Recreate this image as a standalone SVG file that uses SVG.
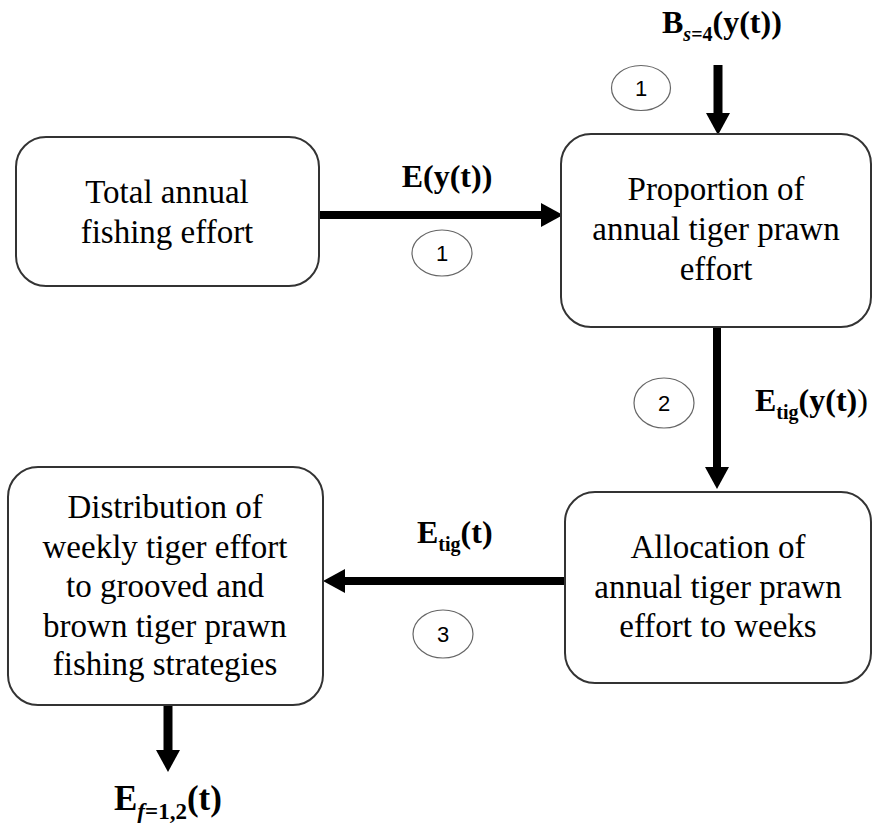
<svg xmlns="http://www.w3.org/2000/svg" width="873" height="823" viewBox="0 0 873 823">
<style>
.box{fill:#fff;stroke:#333;stroke-width:2}
.bt{font-size:33px;fill:#000;text-anchor:middle}
.lab{font-size:32px;font-weight:bold;fill:#000}
.sub{font-size:20px}
.num{fill:#fff;stroke:#666;stroke-width:1.2}
.nt{font-size:22px;fill:#000;text-anchor:middle}
.conn{stroke:#000;stroke-width:8;fill:none}
</style>
<defs>
<marker id="ah" markerUnits="userSpaceOnUse" markerWidth="22" markerHeight="24" viewBox="0 0 22 24" refX="0" refY="12" orient="auto">
<path d="M0,0 L22,12 L0,24 z" fill="#000"/>
</marker>
</defs>
<g id="connectors">
<line class="conn" x1="319" y1="215" x2="541" y2="215" marker-end="url(#ah)"/>
<line class="conn" x1="718" y1="65" x2="718" y2="113" marker-end="url(#ah)" style="stroke-width:9"/>
<line class="conn" x1="717" y1="327" x2="717" y2="467" marker-end="url(#ah)"/>
<line class="conn" x1="565" y1="581" x2="345" y2="581" marker-end="url(#ah)"/>
<line class="conn" x1="168" y1="705" x2="168" y2="750" marker-end="url(#ah)" style="stroke-width:9"/>
</g>
<g font-family="Liberation Serif, Times New Roman, serif">
<g id="node-total">
<rect class="box" x="16" y="137" width="303" height="149" rx="30"/>
<text class="bt" x="167" y="203">Total annual</text>
<text class="bt" x="167" y="243">fishing effort</text>
</g>
<g id="node-proportion">
<rect class="box" x="561" y="134" width="310" height="193" rx="30"/>
<text class="bt" x="716" y="200">Proportion of</text>
<text class="bt" x="716" y="240">annual tiger prawn</text>
<text class="bt" x="716" y="280">effort</text>
</g>
<g id="node-allocation">
<rect class="box" x="565" y="492" width="306" height="191" rx="30"/>
<text class="bt" x="718" y="558">Allocation of</text>
<text class="bt" x="718" y="598">annual tiger prawn</text>
<text class="bt" x="718" y="637">effort to weeks</text>
</g>
<g id="node-distribution">
<rect class="box" x="8" y="467" width="315" height="238" rx="30"/>
<text class="bt" x="165" y="518">Distribution of</text>
<text class="bt" x="165" y="558">weekly tiger effort</text>
<text class="bt" x="165" y="597">to grooved and</text>
<text class="bt" x="165" y="637">brown tiger prawn</text>
<text class="bt" x="165" y="675">fishing strategies</text>
</g>
<g id="labels">
<text class="lab" x="662" y="33">B<tspan class="sub" dy="8"><tspan font-style="italic">s</tspan>=4</tspan><tspan dy="-8">(y(t))</tspan></text>
<text class="lab" x="447" y="187" text-anchor="middle">E(y(t))</text>
<text class="lab" x="755" y="411">E<tspan class="sub" dy="8">tig</tspan><tspan dy="-8">(y(t)</tspan><tspan font-weight="normal">)</tspan></text>
<text class="lab" x="417" y="543">E<tspan class="sub" dy="8">tig</tspan><tspan dy="-8">(t)</tspan></text>
<text class="lab" x="114" y="810" style="font-size:35px">E<tspan class="sub" dy="9" style="font-size:23px"><tspan font-style="italic">f</tspan>=1,2</tspan><tspan dy="-9">(t)</tspan></text>
</g>
</g>
<g font-family="Liberation Sans, Arial, sans-serif">
<g id="step-1a">
<ellipse class="num" cx="641" cy="88" rx="29.5" ry="22.5"/>
<text class="nt" x="641" y="96">1</text>
</g>
<g id="step-1b">
<ellipse class="num" cx="442" cy="253" rx="30" ry="23"/>
<text class="nt" x="442" y="261">1</text>
</g>
<g id="step-2">
<ellipse class="num" cx="664" cy="403" rx="30" ry="25"/>
<text class="nt" x="664" y="411">2</text>
</g>
<g id="step-3">
<ellipse class="num" cx="443" cy="634" rx="30" ry="24"/>
<text class="nt" x="443" y="642">3</text>
</g>
</g>
</svg>
